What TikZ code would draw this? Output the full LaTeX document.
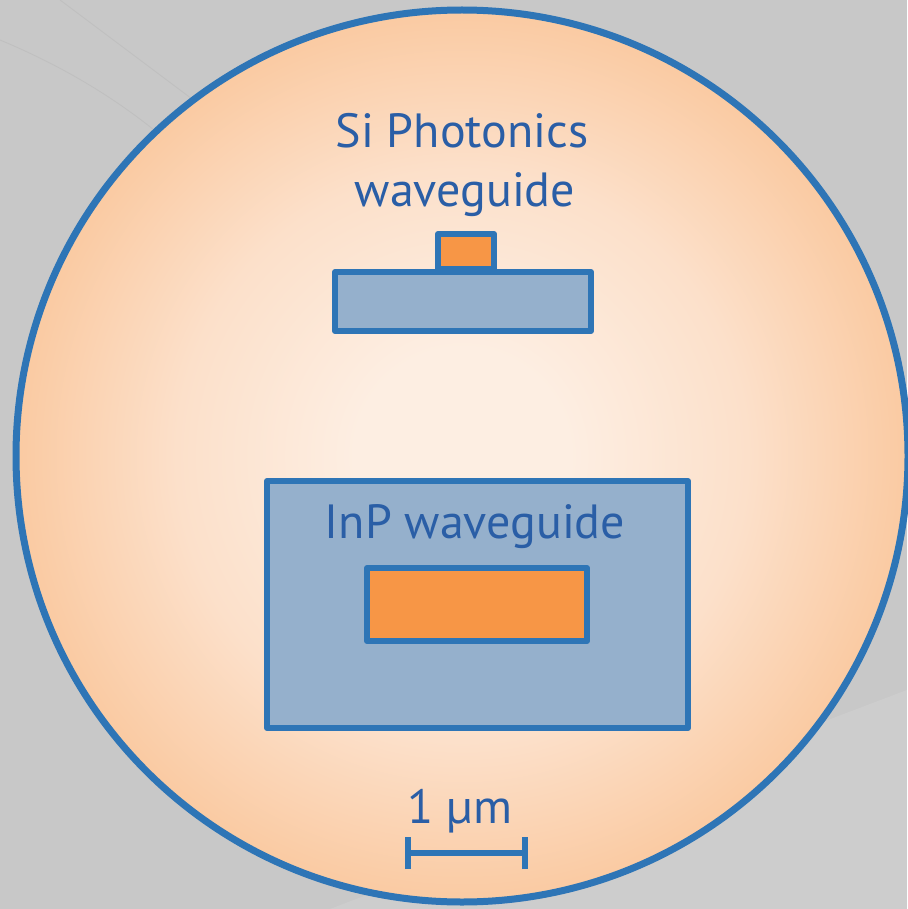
\documentclass[tikz,border=0pt]{standalone}
\usepackage{fontspec}
\setmainfont{PT Sans}
\definecolor{bggray}{HTML}{C8C8C8}
\definecolor{edgeblue}{HTML}{2E75B6}
\definecolor{txtblue}{HTML}{2A5EA6}
\definecolor{boxfill}{HTML}{95B0CC}
\definecolor{corefill}{HTML}{F79646}
\definecolor{peachin}{HTML}{FDEEE2}
\definecolor{peachmid}{HTML}{FCE0CA}
\definecolor{peachout}{HTML}{FACAA2}
\pgfdeclareradialshading{lensshade}{\pgfpoint{0bp}{0bp}}{%
  color(0bp)=(peachin); color(6bp)=(peachin); color(16bp)=(peachmid);
  color(25bp)=(peachout); color(50bp)=(peachout)}
\tikzset{
  wgbox/.style={draw=edgeblue, line width=6pt, line join=round, fill=boxfill},
  corebox/.style={draw=edgeblue, line width=6pt, line join=round, fill=corefill},
  lbl/.style={text=txtblue, font=\fontsize{48}{58}\selectfont, inner sep=0pt, anchor=base},
  barline/.style={draw=edgeblue, line width=5.5pt}
}
\begin{document}
\begin{tikzpicture}[x=1pt,y=-1pt]
\useasboundingbox (0,0) rectangle (907,909);
% background (SEM image approximation)
\fill[bggray] (0,0) rectangle (907,909);
\draw[black!30, line width=0.8pt, opacity=0.4] (0,40) .. controls (120,90) and (200,160) .. (260,240);
\draw[black!30, line width=0.8pt, opacity=0.4] (60,0) .. controls (140,60) and (220,120) .. (300,180);
\fill[white, opacity=0.10] (330,909) -- (907,690) -- (907,909) -- cycle;
% lens circle
\path[shading=lensshade] (462,456) circle[radius=446];
\draw[edgeblue, line width=7pt] (462,456) circle[radius=446];
% Si photonics waveguide
\node[lbl] (sitxt1) at (462,148) {Si Photonics};
\node[lbl] (sitxt2) at (465,207) {waveguide};
\draw[wgbox] (335,272) rectangle (591,331);
\node[corebox, minimum width=56pt, minimum height=35pt, inner sep=0pt, anchor=south west] (sirib) at (435,272) {};
\draw[draw=edgeblue, line width=6pt] (335,272) -- (591,272);
% InP waveguide
\node[wgbox, minimum width=421pt, minimum height=247pt, inner sep=0pt, anchor=north west] (inpbox) at (264,478) {};
\node[lbl] (inptxt) at (475,538) {InP waveguide};
\node[corebox, minimum width=220pt, minimum height=73pt, inner sep=0pt, anchor=north west] (inpcore) at (364,565) {};
% scale bar
\node[lbl] (scaletxt) at (460,823) {1 µm};
\coordinate (barL) at (408,853);
\coordinate (barR) at (525,853);
\draw[barline] (barL) -- (barR);
\draw[barline] ([yshift=-16pt]barL) -- ([yshift=16pt]barL);
\draw[barline] ([yshift=-16pt]barR) -- ([yshift=16pt]barR);
\end{tikzpicture}
\end{document}
